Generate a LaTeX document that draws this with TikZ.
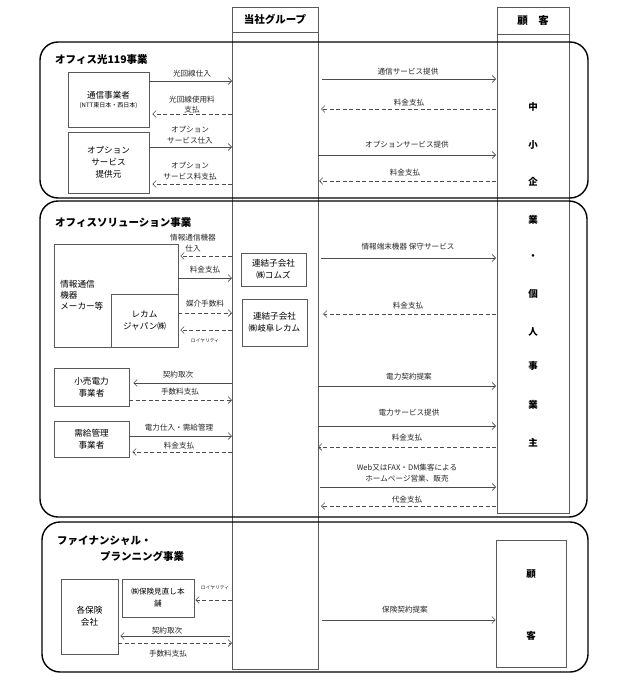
\documentclass[tikz,border=0pt]{standalone}
\usepackage{fontspec}
\setmainfont{Noto Sans CJK JP}
\usetikzlibrary{arrows.meta}
\begin{document}
\begin{tikzpicture}[x=1pt,y=-1pt,
  box/.style={draw=black!65, line width=0.6pt, inner sep=0pt, align=center, font=\fontsize{8.6}{12}\selectfont},
  colbox/.style={draw=black!65, line width=0.6pt},
  hdr/.style={font=\fontsize{10.5}{12}\selectfont\bfseries, inner sep=0pt},
  sec/.style={draw=black, line width=1.4pt, rounded corners=18pt},
  sectitle/.style={font=\fontsize{10.5}{12}\selectfont\bfseries, inner sep=0pt, anchor=west},
  sol/.style={draw=black!70, line width=0.6pt, -{Straight Barb[length=3.5pt,width=7pt]}},
  dsh/.style={sol, dash pattern=on 4pt off 2.5pt},
  lab/.style={font=\fontsize{7.6}{10.5}\selectfont, inner sep=0pt, align=center, text=black!85},
  tiny/.style={font=\fontsize{4.8}{6}\selectfont, inner sep=0pt, text=black!85},
  vch/.style={font=\fontsize{9.5}{10}\selectfont\bfseries, inner sep=0pt}
]
\useasboundingbox (0,0) rectangle (627,688);

% columns
\coordinate (gL) at (232,0);
\coordinate (gR) at (318,0);
\coordinate (cL) at (496,0);
\node[colbox, minimum width=86pt, minimum height=25pt, inner sep=0pt] (grpH) at (275,19.5) {};
\node[hdr] (grpHt) at (grpH) {当社グループ};
\draw[colbox] (232,32) rectangle (318,669);
\node[colbox, minimum width=72pt, minimum height=27pt, inner sep=0pt] (custH) at (533,20.5) {};
\node[hdr] (custHt) at (custH) {顧　客};
\draw[colbox] (497,34) rectangle (569,513);

% vertical customer text
\node[vch] (v1) at (533,107) {中};
\node[vch] (v2) at (533,145) {小};
\node[vch] (v3) at (533,182) {企};
\node[vch] (v4) at (533,220) {業};
\node[vch] (v5) at (533,257) {・};
\node[vch] (v6) at (533,294) {個};
\node[vch] (v7) at (533,332) {人};
\node[vch] (v8) at (533,366) {事};
\node[vch] (v9) at (533,405) {業};
\node[vch] (v10) at (533,443) {主};

% sections
\draw[sec] (40,42) rectangle (588,198);
\draw[sec] (40,201) rectangle (587,517);
\draw[sec] (42,522) rectangle (588,672);

% ---------- Section 1
\node[sectitle] (t1) at (55,60) {オフィス光119事業};
\node[box, minimum width=81pt, minimum height=55pt] (tsu) at (108.5,99.5) {通信事業者\\[-3pt]{\fontsize{6}{7}\selectfont (NTT東日本・西日本)}};
\node[box, minimum width=81pt, minimum height=61pt] (opt) at (108.5,162.5) {オプション\\サービス\\提供元};

\draw[sol] (tsu.east |- 0,81) -- (gL |- 0,81);
\node[lab] (l1) at (192,74) {光回線仕入};
\draw[dsh, shorten >=3pt] (gL |- 0,114) -- (tsu.east |- 0,114);
\node[lab] (l2) at (192,104.5) {光回線使用料\\支払};
\draw[sol] (opt.east |- 0,147) -- (gL |- 0,147);
\node[lab] (l3) at (190,135) {オプション\\サービス仕入};
\draw[dsh, shorten >=3pt] (gL |- 0,184) -- (opt.east |- 0,184);
\node[lab] (l4) at (190,171) {オプション\\サービス料支払};

\draw[sol, shorten <=4pt] (gR |- 0,79) -- (cL |- 0,79);
\node[lab] (r1) at (408,72) {通信サービス提供};
\draw[dsh, shorten >=3pt] (cL |- 0,109) -- (gR |- 0,109);
\node[lab] (r2) at (409,103) {料金支払};
\draw[sol] (gR |- 0,155) -- (cL |- 0,155);
\node[lab] (r3) at (407,145) {オプションサービス提供};
\draw[dsh, shorten >=1pt] (cL |- 0,181) -- (gR |- 0,181);
\node[lab] (r4) at (405,173) {料金支払};

% ---------- Section 2
\node[sectitle] (t2) at (55,223) {オフィスソリューション事業};
\node[box, minimum width=124pt, minimum height=103pt] (info) at (116,295.5) {};
\node[box, anchor=west, align=left, font=\fontsize{8.6}{11}\selectfont, draw=none] (infot) at (60,295) {情報通信\\機器\\メーカー等};
\node[box, minimum width=67pt, minimum height=53pt] (recam) at (144.5,320.5) {レカム\\ジャパン㈱};
\node[box, minimum width=65pt, minimum height=33pt] (coms) at (273.5,269.5) {連結子会社\\㈱コムズ};
\node[box, minimum width=65pt, minimum height=47pt] (gifu) at (274.5,322.5) {連結子会社\\㈱岐阜レカム};

\draw[dsh, shorten >=2pt] (gL |- 0,256) -- (info.east |- 0,256);
\node[lab] (l5) at (193,243) {情報通信機器\\仕入};
\draw[sol] (info.east |- 0,278) -- (gL |- 0,278);
\node[lab] (l6) at (205,270) {料金支払};
\draw[dsh] (recam.east |- 0,313) -- (gL |- 0,313);
\node[lab] (l7) at (205,304) {媒介手数料};
\draw[dsh, shorten >=2pt] (gL |- 0,330) -- (recam.east |- 0,330);
\node[tiny] (l8) at (205,341) {ロイヤリティ};

\draw[sol, shorten <=3pt] (gR |- 0,258) -- (cL |- 0,258);
\node[lab] (r5) at (408,247) {情報端末機器 保守サービス};
\draw[dsh, shorten >=5pt] (cL |- 0,314) -- (gR |- 0,314);
\node[lab] (r6) at (408,306) {料金支払};

\node[box, minimum width=75pt, minimum height=38pt] (retail) at (91.5,387) {小売電力\\事業者};
\node[box, minimum width=75pt, minimum height=36pt] (jukyu) at (91.5,439) {需給管理\\事業者};

\draw[sol, shorten >=4pt] (gL |- 0,383) -- (retail.east |- 0,383);
\node[lab] (l9) at (178,375) {契約取次};
\draw[dsh] (retail.east |- 0,400) -- (gL |- 0,400);
\node[lab] (l10) at (180,392) {手数料支払};
\draw[sol] (jukyu.east |- 0,436) -- (gL |- 0,436);
\node[lab] (l11) at (179,428) {電力仕入・需給管理};
\draw[dsh, shorten >=3pt] (gL |- 0,452) -- (jukyu.east |- 0,452);
\node[lab] (l12) at (179,446) {料金支払};

\draw[sol] (gR |- 0,386) -- (cL |- 0,386);
\node[lab] (r7) at (409,377) {電力契約提案};
\draw[sol] (gR |- 0,426) -- (cL |- 0,426);
\node[lab] (r8) at (409,413) {電力サービス提供};
\draw[dsh] (cL |- 0,447) -- (gR |- 0,447);
\node[lab] (r9) at (407,438) {料金支払};
\draw[sol, shorten <=2pt] (gR |- 0,487) -- (cL |- 0,487);
\node[lab] (r10) at (407,473) {Web又はFAX・DM集客による\\ホームページ営業、販売};
\draw[dsh, shorten >=3pt] (cL |- 0,506) -- (gR |- 0,506);
\node[lab] (r11) at (407,500) {代金支払};

% ---------- Section 3
\node[sectitle] (t3a) at (57,541) {ファイナンシャル・};
\node[sectitle] (t3b) at (100,556) {プランニング事業};
\node[box, minimum width=57pt, minimum height=75pt] (hoken) at (89.5,616.5) {各保険\\会社};
\node[box, minimum width=72pt, minimum height=38pt, font=\fontsize{7.6}{12}\selectfont] (mina) at (158,598) {㈱保険見直し本\\舗};
\node[box, minimum width=70pt, minimum height=127pt] (cust3) at (531,603.5) {};
\node[vch] (c3a) at (531,574) {顧};
\node[vch] (c3b) at (531,636) {客};

\draw[dsh, shorten >=1pt] (gL |- 0,600) -- (mina.east |- 0,600);
\node[tiny] (l13) at (215,588) {ロイヤリティ};
\draw[sol, shorten >=2pt, shorten <=2pt] (gL |- 0,636) -- (hoken.east |- 0,636);
\node[lab] (l14) at (167,631) {契約取次};
\draw[dsh] (hoken.east |- 0,643) -- (gL |- 0,643);
\node[lab] (l15) at (168,654) {手数料支払};
\draw[sol, shorten <=4pt] (gR |- 0,620) -- (cust3.west |- 0,620);
\node[lab] (r12) at (405,610) {保険契約提案};
\end{tikzpicture}
\end{document}
